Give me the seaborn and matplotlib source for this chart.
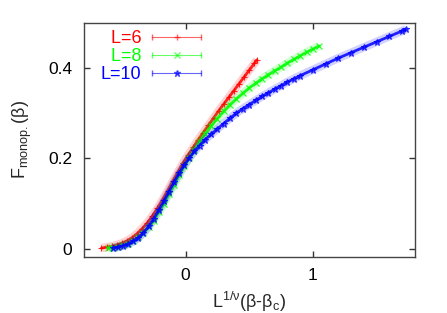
import matplotlib
matplotlib.use('Agg')
import matplotlib.pyplot as plt
from matplotlib.lines import Line2D
from matplotlib.legend_handler import HandlerLine2D, HandlerTuple
import seaborn as sns

# L=6
x6 = [-0.66, -0.62, -0.58, -0.54, -0.50, -0.46, -0.42, -0.38, -0.34, -0.30,
      -0.26, -0.22, -0.18, -0.14, -0.10, -0.06, -0.02, 0.02, 0.06, 0.10,
      0.14, 0.18, 0.22, 0.26, 0.30, 0.34, 0.38, 0.42, 0.46, 0.50, 0.54, 0.56]
y6 = [0.001, 0.003, 0.005, 0.008, 0.012, 0.017, 0.024, 0.033, 0.044, 0.057,
      0.072, 0.089, 0.108, 0.128, 0.149, 0.169, 0.189, 0.207, 0.224, 0.241,
      0.257, 0.273, 0.289, 0.305, 0.320, 0.335, 0.350, 0.365, 0.380, 0.395, 0.410, 0.418]

# L=8
x8 = [-0.61, -0.57, -0.53, -0.49, -0.45, -0.41, -0.37, -0.33, -0.29, -0.25,
      -0.21, -0.17, -0.13, -0.09, -0.05, -0.01, 0.03, 0.07, 0.11, 0.15,
      0.20, 0.25, 0.30, 0.35, 0.40, 0.45, 0.50, 0.55, 0.60, 0.65, 0.70,
      0.75, 0.80, 0.85, 0.90, 0.95, 1.00, 1.05]
y8 = [0.001, 0.002, 0.004, 0.007, 0.011, 0.017, 0.025, 0.035, 0.047, 0.062,
      0.080, 0.099, 0.120, 0.141, 0.162, 0.182, 0.201, 0.219, 0.237, 0.253,
      0.271, 0.288, 0.304, 0.319, 0.332, 0.344, 0.356, 0.366, 0.376, 0.385, 0.394,
      0.402, 0.411, 0.419, 0.427, 0.435, 0.442, 0.449]

# L=10
x10 = [-0.57, -0.53, -0.49, -0.45, -0.41, -0.37, -0.33, -0.29, -0.25, -0.21,
       -0.17, -0.13, -0.09, -0.05, -0.01, 0.03, 0.07, 0.11, 0.15, 0.20,
       0.25, 0.30, 0.35, 0.40, 0.45, 0.50, 0.55, 0.60, 0.65, 0.70, 0.75,
       0.80, 0.85, 0.90, 1.00, 1.10, 1.20, 1.30, 1.40, 1.50, 1.60, 1.70, 1.73]
y10 = [0.001, 0.003, 0.006, 0.010, 0.016, 0.024, 0.035, 0.049, 0.066, 0.085,
       0.105, 0.126, 0.147, 0.167, 0.185, 0.201, 0.215, 0.228, 0.240, 0.253,
       0.265, 0.277, 0.289, 0.300, 0.310, 0.319, 0.328, 0.337, 0.345, 0.353, 0.361,
       0.369, 0.376, 0.383, 0.396, 0.409, 0.422, 0.434, 0.446, 0.458, 0.470, 0.482, 0.486]

labels = ['\u2007L=6', '\u2007L=8', 'L=10']
colors = ['#ff0000', '#00ff00', '#0000ff']
marks = ['+', 'x', '*']

sns.set_style('ticks')
plt.rcParams['font.family'] = ['Liberation Sans', 'DejaVu Sans']
plt.rcParams['mathtext.fontset'] = 'custom'
plt.rcParams['mathtext.rm'] = 'Liberation Sans'
plt.rcParams['mathtext.it'] = 'Liberation Sans:italic'

fig = plt.figure(figsize=(4.47, 3.13), dpi=100)
ax = fig.add_axes([0.187, 0.180, 0.741, 0.747])

handles = []
hmap = {}
for xs, ys, col, mk in zip([x6, x8, x10], [y6, y8, y10], colors, marks):
    sns.lineplot(x=xs, y=ys, ax=ax, color=col, lw=6, alpha=0.18, sort=False,
                 solid_capstyle='butt')
    sns.lineplot(x=xs, y=ys, ax=ax, color=col, lw=2, alpha=0.85, sort=False,
                 marker=mk, markersize=5, markeredgewidth=0.8, markeredgecolor=col,
                 markerfacecolor='none')
    mid = Line2D([], [], color=col, lw=0.8, alpha=0.6, marker=mk, ms=5, mew=1)
    caps = Line2D([], [], color=col, lw=0, alpha=0.6, marker='|', ms=5, mew=1)
    hmap[mid] = HandlerLine2D(numpoints=1)
    hmap[caps] = HandlerLine2D(numpoints=2, marker_pad=0)
    handles.append((mid, caps))
hmap[tuple] = HandlerTuple(ndivide=1, pad=0)

ax.set_xlim(-0.8, 1.8)
ax.set_ylim(-0.018, 0.5)
ax.set_xticks([0, 1])
ax.set_yticks([0, 0.2, 0.4])
ax.set_xticklabels(['0', '1'])
ax.set_yticklabels(['0', '0.2', '0.4'])
ax.tick_params(direction='in', length=4, width=1, top=True, right=True,
               labelsize=12.5, colors='#333333', labelcolor='black', pad=8)
for s in ax.spines.values():
    s.set_color('#444444')
    s.set_linewidth(1)

ax.set_xlabel('L$^{\\mathrm{1/\u03bd}}$(\u03b2-\u03b2$_{\\mathrm{c}}$)', fontsize=13, labelpad=5)
ax.set_ylabel('F$_{\\mathrm{monop.}}$(\u03b2)', fontsize=13, labelpad=10)

ax.legend(handles, labels, handler_map=hmap, loc='upper left',
          bbox_to_anchor=(0.03, 1.0), frameon=False, markerfirst=False,
          labelcolor=colors, fontsize=13, handlelength=2.7, handletextpad=0.6,
          labelspacing=0.05, borderaxespad=0)

fig.savefig('out.png', dpi=100)
